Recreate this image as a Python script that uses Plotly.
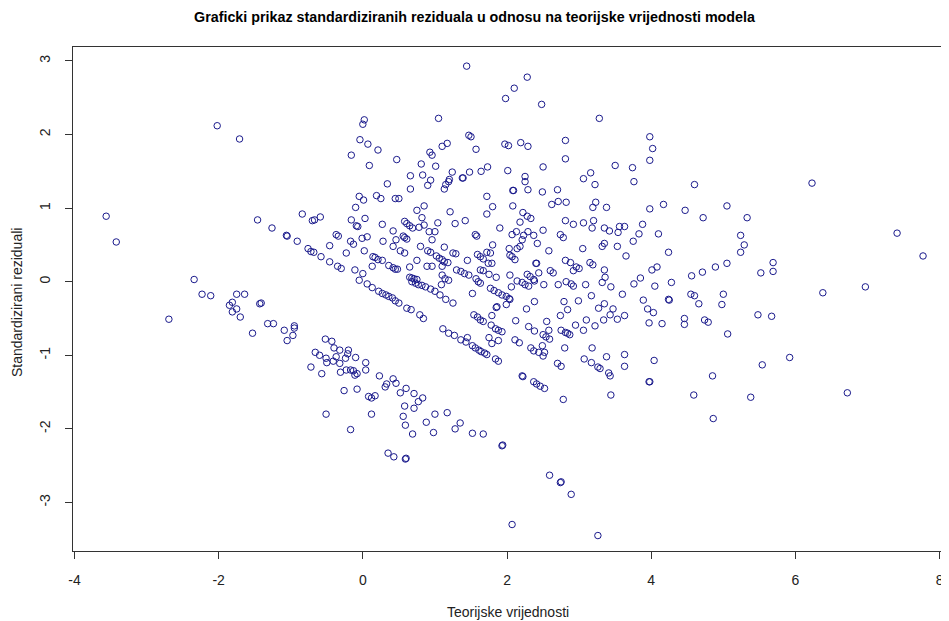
import plotly.graph_objects as go

# Fitted (theoretical) values and standardized residuals
pts = [
(-3.56,0.89),(-3.42,0.54),(-2.02,2.12),(-1.71,1.94),(-1.46,0.84),(-2.34,0.03),
(-2.23,-0.17),(-2.11,-0.19),(-1.75,-0.17),(-1.64,-0.17),(-1.85,-0.32),(-1.81,-0.28),(-1.75,-0.37),(-1.81,-0.41),(-1.70,-0.48),(-1.43,-0.30),(-2.69,-0.51),(-1.53,-0.70),
(1.44,2.93),(0.02,2.20),(0.00,2.14),(1.05,2.22),(-0.04,1.93),(0.07,1.87),(0.21,1.79),(-0.16,1.72),(0.47,1.66),(0.09,1.58),(1.47,1.99),(1.50,1.97),(1.57,1.80),(1.10,1.84),(1.17,1.88),(0.93,1.76),(0.96,1.72),(0.81,1.60),(1.01,1.57),(0.66,1.44),(0.83,1.45),(0.94,1.38),(0.90,1.31),(0.34,1.33),(0.66,1.26),(1.24,1.49),(1.20,1.39),(1.19,1.36),(1.15,1.32),(1.13,1.26),(1.38,1.41),(1.39,1.41),(1.48,1.49),(1.64,1.50),(1.73,1.56),(1.72,1.16),(1.72,0.92),(-0.05,1.16),(0.01,1.11),(-0.10,1.01),(0.19,1.17),(0.25,1.13),(0.45,1.13),(0.50,1.13),(0.75,0.97),(0.85,1.03),(0.82,0.87),(1.21,0.95),(-0.84,0.92),(-0.70,0.83),(-0.67,0.84),(-0.59,0.88),(-1.26,0.73),(-1.06,0.63),(-1.05,0.62),(-0.91,0.55),(-0.76,0.45),(-0.72,0.41),(-0.68,0.40),(-0.58,0.34),(-0.46,0.27),(-0.35,0.21),(-0.30,0.18),(-0.46,0.49),(-0.37,0.64),(-0.34,0.62),(-0.23,0.39),(-0.17,0.55),(-0.13,0.51),(-0.16,0.84),(-0.09,0.76),(-0.07,0.75),(0.03,0.86),(0.27,0.78),(-0.01,0.59),(0.06,0.61),(0.02,0.42),(0.14,0.34),(0.17,0.33),(0.21,0.30),(0.27,0.29),(0.13,0.21),(-0.11,0.16),(0.00,0.11),(0.28,0.55),(0.42,0.69),(0.46,0.57),(0.42,0.48),(0.52,0.42),(0.58,0.39),(0.56,0.62),(0.58,0.60),(0.61,0.58),(0.58,0.82),(0.61,0.79),(0.65,0.76),(0.69,0.73),(0.78,0.74),(0.85,0.77),(0.92,0.68),(1.00,0.68),(1.04,0.80),(0.96,0.57),(0.80,0.48),(0.90,0.42),(0.94,0.40),(1.02,0.35),(1.06,0.32),(1.10,0.30),(1.13,0.27),(1.18,0.26),(1.13,0.47),(1.25,0.39),(1.29,0.38),(1.28,0.79),(1.42,0.83),(1.56,0.64),(1.58,0.62),(1.59,0.37),(1.63,0.34),(1.67,0.31),(1.72,0.40),(1.45,0.29),(0.75,0.29),(0.65,0.20),(0.36,0.22),(0.42,0.19),(0.45,0.17),(0.48,0.17),(0.89,0.21),(0.96,0.21),(1.10,0.21),(0.65,0.06),(0.68,0.05),(0.71,0.04),(0.75,0.03),(1.10,0.09),(1.14,0.04),(1.30,0.16),(1.36,0.14),(1.41,0.11),(1.47,0.09),(1.57,0.04),(1.63,0.16),(1.67,0.15),(1.74,0.25),(1.75,0.10),
(-0.05,0.02),(0.06,-0.03),(0.13,-0.08),(0.22,-0.13),(0.27,-0.16),(0.32,-0.18),(0.36,-0.20),(0.41,-0.22),(0.45,-0.26),(0.50,-0.29),(0.61,-0.36),(0.67,-0.38),(0.79,-0.45),(0.84,-0.50),(0.68,0.00),(0.73,-0.02),(0.77,-0.04),(0.82,-0.05),(0.87,-0.07),(0.94,-0.10),(1.00,-0.13),(1.07,-0.18),(1.15,-0.24),(1.25,-0.29),(1.09,-0.04),(1.19,0.02),(1.52,-0.16),(1.60,0.00),(1.63,-0.02),(1.11,-0.64),(1.19,-0.70),(1.27,-0.73),(1.36,-0.79),(1.43,-0.82),(1.45,-0.76),(1.52,-0.87),(1.56,-0.90),(1.61,-0.93),(1.64,-0.95),(1.69,-0.97),(1.72,-0.99),(1.54,-0.45),(1.59,-0.48),(1.63,-0.52),(1.67,-0.54),(1.75,-0.76),(-1.41,-0.29),(-1.32,-0.57),(-1.24,-0.57),(-1.09,-0.66),(-1.05,-0.80),(-0.97,-0.73),(-0.95,-0.63),(-0.95,-0.60),(-0.52,-0.78),(-0.43,-0.81),(-0.40,-0.90),(-0.32,-0.93),(-0.66,-0.96),(-0.60,-1.00),(-0.51,-1.04),(-0.50,-1.10),(-0.41,-1.08),(-0.37,-1.02),(-0.32,-1.11),(-0.24,-1.04),(-0.21,-0.98),(-0.20,-0.93),(-0.10,-1.03),(-0.72,-1.16),(-0.57,-1.25),(-0.31,-1.23),(-0.23,-1.20),(-0.17,-1.20),(-0.13,-1.21),(-0.11,-1.27),(-0.08,-1.25),(0.04,-1.10),(0.04,-1.20),(0.23,-1.28),(-0.26,-1.48),(-0.08,-1.46),(0.33,-1.39),(0.31,-1.43),(0.42,-1.32),(0.46,-1.38),(0.52,-1.51),(0.60,-1.45),(0.71,-1.52),(0.83,-1.58),(0.77,-1.63),(0.08,-1.56),(0.12,-1.58),(0.17,-1.55),(0.58,-1.69),(0.71,-1.72),(-0.51,-1.80),(0.12,-1.80),(0.56,-1.83),(0.59,-1.95),(1.00,-1.80),(1.17,-1.78),(0.88,-1.91),(0.98,-2.05),(0.69,-2.07),(1.28,-2.00),(1.35,-1.92),(1.52,-2.06),(1.67,-2.07),(-0.17,-2.01),(0.35,-2.33),(0.43,-2.38),(0.59,-2.41),(0.60,-2.40),
(2.28,2.78),(2.10,2.63),(1.98,2.49),(2.48,2.41),(3.28,2.22),(3.98,1.97),(4.02,1.81),(3.98,1.65),(1.97,1.87),(2.02,1.85),(2.19,1.89),(2.29,1.84),(2.81,1.92),(2.81,1.67),(2.50,1.56),(2.01,1.51),(2.25,1.43),(2.25,1.36),(2.08,1.24),(2.09,1.24),(2.29,1.25),(2.49,1.22),(2.70,1.25),(3.50,1.58),(3.74,1.55),(3.76,1.36),(3.06,1.40),(3.16,1.48),(3.22,1.32),(4.60,1.32),(1.80,1.02),(2.08,1.03),(2.22,0.94),(2.28,0.89),(2.33,0.86),(2.62,1.05),(2.71,1.09),(2.82,1.08),(3.23,1.08),(3.19,1.01),(3.38,1.01),(3.98,0.99),(4.17,1.05),(4.47,0.97),(4.72,0.87),(2.18,0.81),(1.90,0.73),(2.07,0.64),(2.13,0.68),(2.23,0.63),(2.29,0.68),(2.37,0.63),(2.50,0.70),(2.81,0.83),(2.92,0.78),(3.06,0.80),(3.20,0.83),(3.18,0.73),(3.35,0.73),(3.42,0.69),(3.54,0.67),(3.56,0.75),(3.63,0.75),(3.88,0.78),(3.83,0.65),(4.10,0.65),(3.75,0.55),(3.35,0.52),(3.32,0.48),(3.53,0.48),(3.65,0.35),(4.24,0.40),(2.74,0.64),(2.78,0.60),(2.42,0.52),(2.21,0.57),(2.18,0.48),(2.14,0.45),(2.03,0.45),(2.04,0.36),(2.07,0.34),(2.11,0.30),(1.80,0.50),(2.58,0.42),(3.05,0.45),(2.40,0.25),(2.41,0.25),(2.44,0.12),(2.28,0.10),(2.32,0.07),(2.37,0.03),(2.04,0.09),(2.60,0.15),(2.64,0.12),(2.81,0.29),(2.88,0.26),(2.96,0.20),(3.00,0.18),(2.92,0.15),(3.15,0.26),(3.19,0.23),(3.35,0.16),(3.36,0.06),(3.85,0.05),(4.01,0.16),(4.08,0.20),(4.56,0.08),(4.71,0.13),(1.77,0.39),(1.79,0.25),(1.85,0.06),
(6.23,1.34),(5.05,1.03),(5.33,0.87),(5.24,0.63),(5.29,0.50),(5.24,0.40),(7.41,0.66),(7.77,0.35),(4.89,0.20),(5.05,0.25),(5.52,0.12),(5.69,0.26),(5.69,0.14),
(5.00,-0.17),(4.98,-0.31),(4.74,-0.52),(4.79,-0.55),(5.06,-0.71),(5.48,-0.45),(5.67,-0.47),(6.38,-0.15),(6.97,-0.07),(5.92,-1.03),(5.54,-1.13),(4.85,-1.28),(5.38,-1.57),(6.72,-1.51),(4.86,-1.86),
(1.77,-0.09),(1.82,-0.12),(1.88,-0.15),(1.93,-0.18),(1.99,-0.20),(2.03,-0.23),(2.04,-0.24),(2.06,-0.07),(2.14,0.01),(2.21,-0.01),(2.25,-0.04),(2.30,-0.06),(2.38,0.01),(2.51,-0.04),(2.71,-0.04),(2.82,0.00),(2.89,-0.03),(2.92,-0.06),(3.09,-0.04),(3.32,-0.01),(3.44,-0.07),(3.76,-0.03),(4.05,-0.06),(4.28,-0.01),(4.55,-0.17),(4.60,-0.19),(4.66,-0.30),(4.46,-0.50),(4.46,-0.58),(4.15,-0.57),(3.97,-0.56),(3.89,-0.25),(3.95,-0.37),(4.03,-0.42),(4.24,-0.24),(4.25,-0.25),(3.60,-0.17),(3.63,-0.46),(3.53,-0.51),(3.47,-0.37),(3.43,-0.45),(3.35,-0.30),(3.27,-0.36),(3.34,-0.52),(3.22,-0.60),(3.17,-0.19),(3.10,-0.52),(3.06,-0.66),(2.99,-0.26),(2.95,-0.59),(2.84,-0.38),(2.79,-0.27),(2.74,-0.46),(2.75,-0.66),(2.81,-0.69),(2.84,-0.70),(2.87,-0.72),(2.80,-0.90),(2.55,-0.54),(2.58,-0.66),(2.50,-0.72),(2.54,-0.75),(2.59,-0.78),(2.38,-0.27),(2.27,-0.37),(2.12,-0.53),(2.30,-0.61),(2.38,-0.67),(2.11,-0.79),(2.17,-0.83),(2.49,-0.87),(2.33,-0.90),(2.37,-0.94),(2.44,-0.96),(2.52,-0.96),(2.50,-1.01),(2.70,-1.11),(2.75,-1.15),(2.21,-1.28),(2.22,-1.29),(2.37,-1.36),(2.41,-1.39),(2.46,-1.42),(2.52,-1.45),(2.78,-1.60),(3.07,-1.05),(3.17,-1.10),(3.26,-1.16),(3.29,-1.18),(3.18,-0.90),(3.38,-1.02),(3.41,-1.24),(3.43,-1.28),(3.63,-0.99),(3.63,-1.15),(4.04,-1.07),(3.97,-1.36),(3.98,-1.36),(3.44,-1.54),(4.59,-1.54),(1.93,-2.23),(1.94,-2.22),(2.59,-2.63),(2.74,-2.73),(2.75,-2.72),(2.89,-2.89),(2.07,-3.30),(3.26,-3.45),(1.79,-0.46),(1.78,-0.59),(1.84,-0.64),(1.88,-0.66),(1.93,-0.68),(1.79,-0.84),(1.88,-0.80),(1.84,-1.05),(1.88,-1.08),(1.85,-0.35),(1.86,-0.34),(1.99,-0.31),
]
teorijske = [p[0] for p in pts]
reziduali = [p[1] for p in pts]

x_ticks = [-4, -2, 0, 2, 4, 6, 8]
x_ticktext = ["-4", "-2", "0", "2", "4", "6", "8"]
y_ticks = [-3, -2, -1, 0, 1, 2, 3]
y_ticktext = ["-3", "-2", "-1", "0", "1", "2", "3"]

title_text = "Graficki prikaz standardiziranih reziduala u odnosu na teorijske vrijednosti modela"
x_title = "Teorijske vrijednosti"
y_title = "Standardizirani reziduali"
FONT = "Liberation Sans, Arial, sans-serif"
COL = "#1a1a8c"
TXT = "#222222"

# The page body has an 8px margin, so the figure is sized/offset to compensate.
W, H = 941, 613
ML, MT, MB = 65, 39, 70
PW, PH = W - ML, H - MT - MB

fig = go.Figure(go.Scatter(
    x=teorijske, y=reziduali, mode="markers",
    marker=dict(symbol="circle-open", size=6.5, color=COL, line=dict(width=1, color=COL)),
    hoverinfo="x+y",
))

fig.update_layout(
    width=W, height=H,
    margin=dict(l=ML, r=0, t=MT, b=MB, autoexpand=False),
    paper_bgcolor="white", plot_bgcolor="white",
    showlegend=False,
    font=dict(family=FONT, size=14, color="black"),
    title=dict(text="<b>" + title_text + "</b>", x=466.5 / W, xref="container", xanchor="center",
               y=1 - 9 / H, yref="container", yanchor="middle",
               font=dict(family=FONT, size=14.3, color="black")),
    xaxis=dict(
        range=[-4.02, 8.13], tickvals=x_ticks, ticktext=x_ticktext, automargin=False,
        showgrid=False, zeroline=False,
        showline=True, linecolor="#333333", linewidth=1, mirror=True,
        ticks="outside", ticklen=7, tickcolor="#333333", tickwidth=1,
        ticklabelstandoff=9,
        tickfont=dict(family=FONT, size=14, color=TXT),
    ),
    yaxis=dict(
        range=[-3.66, 3.19], tickvals=y_ticks, ticktext=y_ticktext, automargin=False,
        showgrid=False, zeroline=False,
        showline=True, linecolor="#333333", linewidth=1,
        ticks="outside", ticklen=7, tickcolor="#333333", tickwidth=1, tickangle=-90,
        ticklabelstandoff=9,
        tickfont=dict(family=FONT, size=14, color=TXT),
    ),
    annotations=[
        dict(text=x_title, xref="paper", yref="paper", x=(500 - ML) / PW, y=0,
             xanchor="center", yanchor="middle", yshift=-61, showarrow=False,
             font=dict(family=FONT, size=14, color=TXT)),
        dict(text=y_title, xref="paper", yref="paper", x=0, y=(PH - (295 - MT)) / PH,
             xanchor="center", yanchor="middle", xshift=-(ML - 9), textangle=-90, showarrow=False,
             font=dict(family=FONT, size=14, color=TXT)),
    ],
)

fig.write_html("out.html")
